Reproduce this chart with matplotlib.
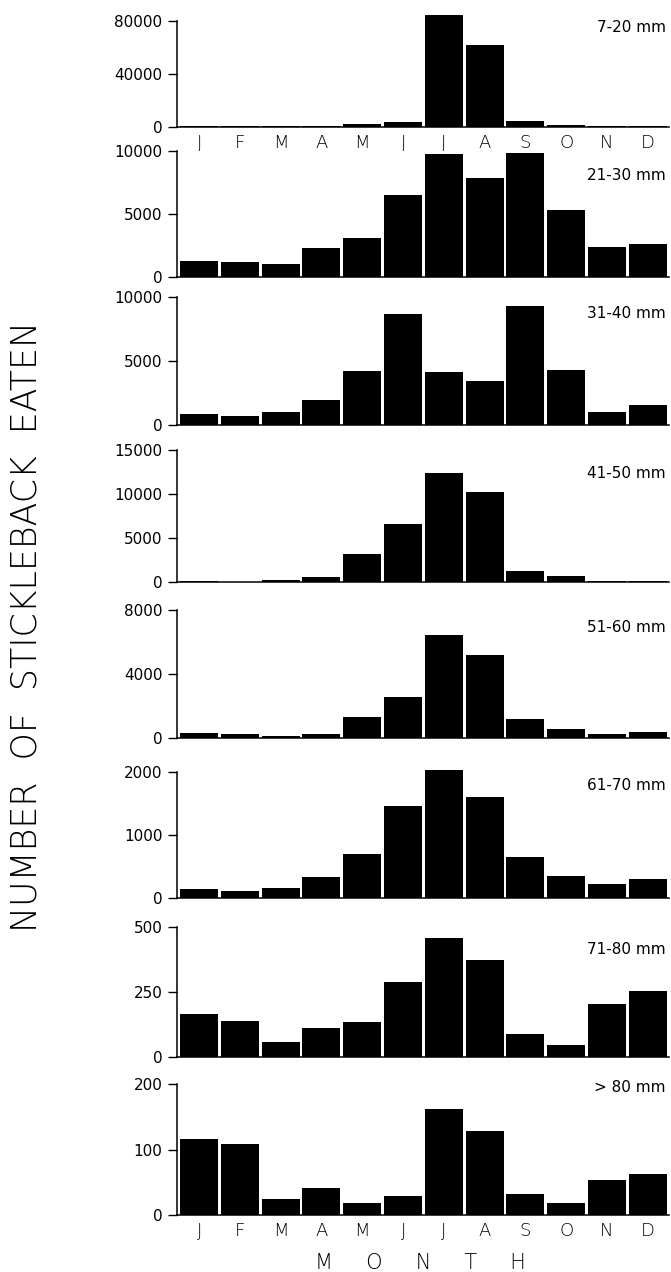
import matplotlib
matplotlib.use("Agg")
import matplotlib.pyplot as plt

# ---------------- data ----------------
months = ["J", "F", "M", "A", "M", "J", "J", "A", "S", "O", "N", "D"]

size_classes = ["7-20 mm", "21-30 mm", "31-40 mm", "41-50 mm",
                "51-60 mm", "61-70 mm", "71-80 mm", "> 80 mm"]

eaten_7_20 = [800, 300, 500, 400, 1800, 3300, 84000, 62000, 4300, 1300, 300, 200]
eaten_21_30 = [1300, 1160, 1060, 2330, 3120, 6480, 9740, 7800, 9840, 5290, 2410, 2650]
eaten_31_40 = [840, 730, 1040, 1960, 4230, 8690, 4180, 3420, 9350, 4310, 1040, 1570]
eaten_41_50 = [110, 80, 230, 640, 3170, 6570, 12380, 10230, 1280, 720, 150, 110]
eaten_51_60 = [330, 270, 150, 290, 1310, 2600, 6440, 5220, 1210, 600, 290, 370]
eaten_61_70 = [150, 120, 160, 330, 700, 1460, 2020, 1600, 650, 350, 230, 310]
eaten_71_80 = [164, 138, 57, 111, 133, 290, 460, 374, 89, 46, 204, 255]
eaten_over_80 = [117, 108, 24, 42, 18, 29, 162, 129, 32, 18, 53, 63]

yticks_7_20 = [0, 40000, 80000]
yticks_21_30 = [0, 5000, 10000]
yticks_31_40 = [0, 5000, 10000]
yticks_41_50 = [0, 5000, 10000, 15000]
yticks_51_60 = [0, 4000, 8000]
yticks_61_70 = [0, 1000, 2000]
yticks_71_80 = [0, 250, 500]
yticks_over_80 = [0, 100, 200]

series = [eaten_7_20, eaten_21_30, eaten_31_40, eaten_41_50,
          eaten_51_60, eaten_61_70, eaten_71_80, eaten_over_80]
ticks = [yticks_7_20, yticks_21_30, yticks_31_40, yticks_41_50,
         yticks_51_60, yticks_61_70, yticks_71_80, yticks_over_80]

# ---------------- layout (pixels) ----------------
W, H = 671, 1272
ax_left, ax_right = 177, 669
panel_px = [(20.7, 126.7), (150.7, 277.0), (297.3, 425.0), (450.0, 582.3),
            (610.0, 738.3), (771.7, 898.3), (927.3, 1056.7), (1084.3, 1215.0)]
label_y = [27, 175, 313, 473, 628, 785, 950, 1088]

fig = plt.figure(figsize=(W / 100, H / 100), dpi=100)

tick_font = dict(family="DejaVu Sans", size=11)
letter_font = dict(family="DejaVu Sans", weight="light")

for i, (vals, yt) in enumerate(zip(series, ticks)):
    top, bot = panel_px[i]
    ax = fig.add_axes([ax_left / W, 1 - bot / H, (ax_right - ax_left) / W, (bot - top) / H])
    x = list(range(len(months)))
    ax.bar(x, vals, width=0.93, color="black", edgecolor="none", clip_on=False)
    ax.set_xlim(-0.54, 11.52)
    ax.set_ylim(0, yt[-1])
    ax.set_yticks(yt)
    ax.set_yticklabels([str(t) for t in yt], fontdict=tick_font)
    ax.spines["top"].set_visible(False)
    ax.spines["right"].set_visible(False)
    for s in ("left", "bottom"):
        ax.spines[s].set_linewidth(1.1)
    ax.tick_params(axis="y", direction="out", length=6.5, width=1.0, pad=4)
    ax.set_xticks(x)
    if i == 0 or i == len(series) - 1:
        ax.set_xticklabels(months, fontsize=13, fontweight="light", family="DejaVu Sans")
    else:
        ax.set_xticklabels([])
    ax.tick_params(axis="x", length=0, pad=5)
    fig.text(666 / W, 1 - label_y[i] / H, size_classes[i], ha="right", va="center",
             fontsize=11, family="DejaVu Sans")

fig.text(27 / W, 1 - 627 / H, "NUMBER  OF  STICKLEBACK  EATEN", rotation=90,
         ha="center", va="center", fontsize=25, **letter_font)
fig.text(420 / W, 1 - 1263 / H, "M     O     N     T     H", ha="center", va="center",
         fontsize=15, **letter_font)

fig.savefig("out.png", dpi=100)
